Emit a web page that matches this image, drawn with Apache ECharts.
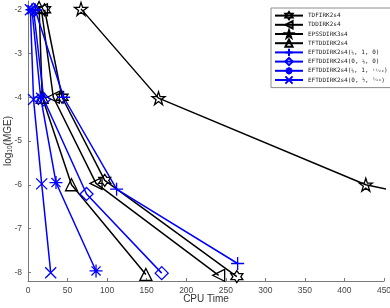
<!DOCTYPE html>
<html><head><meta charset="utf-8">
<script src="https://cdn.jsdelivr.net/npm/echarts@6/dist/echarts.min.js"></script>
<style>html,body{margin:0;padding:0;background:#fff}#c{width:390px;height:308px}</style>
</head><body><div id="c"></div>
<script>
// ---- data ----
const names = [
  'TDFIRK2s4',
  'TDDIRK2s4',
  'EPSSDIRK3s4',
  'TFTDDIRK2s4',
  'EFTDDIRK2s4(1/4, 1, 0)',
  'EFTDDIRK2s4(0, 1/2, 0)',
  'EFTDDIRK2s4(1/4, 1, 11/20)',
  'EFTDDIRK2s4(0, 1/2, 3/40)'
];
const legendLabels = [
  'TDFIRK2s4',
  'TDDIRK2s4',
  'EPSSDIRK3s4',
  'TFTDDIRK2s4',
  'EFTDDIRK2s4({f|¼}, 1, 0)',
  'EFTDDIRK2s4(0, {f|½}, 0)',
  'EFTDDIRK2s4({f|¼}, 1, {f|¹¹⁄₂₀})',
  'EFTDDIRK2s4(0, {f|½}, {f|³⁄₄₀})'
];
const cpuTDF   = [21, 43, 97, 264];
const errTDF   = [-2.0, -4.0, -5.9, -8.1];
const cpuTDD   = [17, 32, 86, 241];
const errTDD   = [-2.0, -4.0, -5.97, -8.07];
const cpuEPSS  = [67, 165, 427, 950];
const errEPSS  = [-1.98, -4.02, -6.0, -8.0];
const cpuTFT   = [14, 18, 55, 149];
const errTFT   = [-1.95, -4.0, -6.0, -8.05];
const cpuEFT1  = [9, 45, 112, 265];
const errEFT1  = [-2.0, -4.0, -6.1, -7.8];
const cpuEFT2  = [7, 20, 74, 169];
const errEFT2  = [-2.0, -4.05, -6.21, -8.02];
const cpuEFT3  = [5, 16, 35.4, 86];
const errEFT3  = [-2.0, -4.0, -5.95, -7.97];
const cpuEFT4  = [3, 7, 17.3, 28.7];
const errEFT4  = [-2.0, -4.05, -5.98, -8.01];
const xTicks = [0, 50, 100, 150, 200, 250, 300, 350, 400, 450];
const yTicks = [-8, -7, -6, -5, -4, -3, -2];

// ---- marker shapes ----
const HEX = 'path://M0,-100L28.9,-50L86.6,-50L57.7,0L86.6,50L28.9,50L0,100L-28.9,50L-86.6,50L-57.7,0L-86.6,-50L-28.9,-50Z';
const STAR = 'path://M0,-100L22.5,-30.9L95.1,-30.9L36.3,11.8L58.8,80.9L0,38.2L-58.8,80.9L-36.3,11.8L-95.1,-30.9L-22.5,-30.9Z';
const PLUS = 'path://M0,-100L0,100M-100,0L100,0';
const ASTER = 'path://M0,-100L0,100M-100,0L100,0M-70,-70L70,70M-70,70L70,-70';
const XMARK = 'path://M-100,-100L100,100M-100,100L100,-100';
const DIAM = 'path://M0,-100L70,0L0,100L-70,0Z';

const pairs = (xs, ys) => xs.map((x, i) => [x, ys[i]]);
const K = '#000000', B = '#0000ff';
function mk(name, xs, ys, color, symbol, size, rot) {
  return {
    name, type: 'line', data: pairs(xs, ys), symbol, symbolSize: size,
    symbolRotate: rot || 0, showAllSymbol: true, clip: true, animation: false,
    lineStyle: { color, width: 1.5 },
    itemStyle: { color: 'rgba(255,255,255,0)', borderColor: color, borderWidth: 1.3 },
    emphasis: { disabled: true }
  };
}
const series = [
  mk(names[0], cpuTDF, errTDF, K, HEX, 12),
  mk(names[1], cpuTDD, errTDD, K, 'triangle', 12, 90),
  mk(names[2], cpuEPSS, errEPSS, K, STAR, 13),
  mk(names[3], cpuTFT, errTFT, K, 'triangle', 12),
  mk(names[4], cpuEFT1, errEFT1, B, PLUS, 13),
  mk(names[5], cpuEFT2, errEFT2, B, DIAM, 13),
  mk(names[6], cpuEFT3, errEFT3, B, ASTER, 13),
  mk(names[7], cpuEFT4, errEFT4, B, XMARK, 11)
];

const axisCol = '#7a7a7a', labCol = '#444';
const chart = echarts.init(document.getElementById('c'), null, { renderer: 'canvas' });
chart.setOption({
  backgroundColor: '#fff',
  animation: false,
  textStyle: { fontFamily: 'Liberation Sans, Arial, sans-serif' },
  grid: { left: 28, right: 6, top: 1, bottom: 27, containLabel: false, outerBoundsMode: 'none' },
  legend: {
    orient: 'vertical', left: 271, top: 8,
    data: names,
    formatter: n => legendLabels[names.indexOf(n)],
    itemWidth: 28, itemHeight: 9, itemGap: 0,
    padding: [3, 3, 3, 3],
    backgroundColor: '#fff', borderColor: '#8c8c8c', borderWidth: 1,
    textStyle: {
      fontFamily: 'DejaVu Sans Mono, Liberation Mono, monospace', fontSize: 6, color: '#222',
      rich: { f: { fontFamily: 'DejaVu Sans Mono, monospace', fontSize: 4.6, color: '#222' } }
    },
    selectedMode: false
  },
  xAxis: {
    type: 'value', min: 0, max: 450, interval: 50,
    name: 'CPU Time', nameLocation: 'middle', nameGap: 13, nameMoveOverlap: false,
    nameTextStyle: { fontSize: 10, color: '#333' },
    axisLine: { show: true, lineStyle: { color: axisCol, width: 1 } },
    axisTick: { show: true, inside: true, length: 3, lineStyle: { color: axisCol } },
    axisLabel: { fontSize: 8.5, color: labCol, margin: 5 },
    splitLine: { show: false }
  },
  yAxis: {
    type: 'value', min: -8.2, max: -1.8,
    name: 'log{s|10}(MGE)', nameLocation: 'middle', nameGap: 14, nameRotate: 90, nameMoveOverlap: false,
    nameTextStyle: { fontSize: 10, color: '#333', rich: { s: { fontSize: 6.5, color: '#333', verticalAlign: 'bottom', padding: [4, 0, 0, 0] } } },
    axisLine: { show: true, lineStyle: { color: axisCol, width: 1 } },
    axisTick: { show: true, inside: true, length: 3, customValues: yTicks, lineStyle: { color: axisCol } },
    axisLabel: { fontSize: 8.5, color: labCol, margin: 6, customValues: yTicks },
    splitLine: { show: false }
  },
  series
});
</script></body></html>
